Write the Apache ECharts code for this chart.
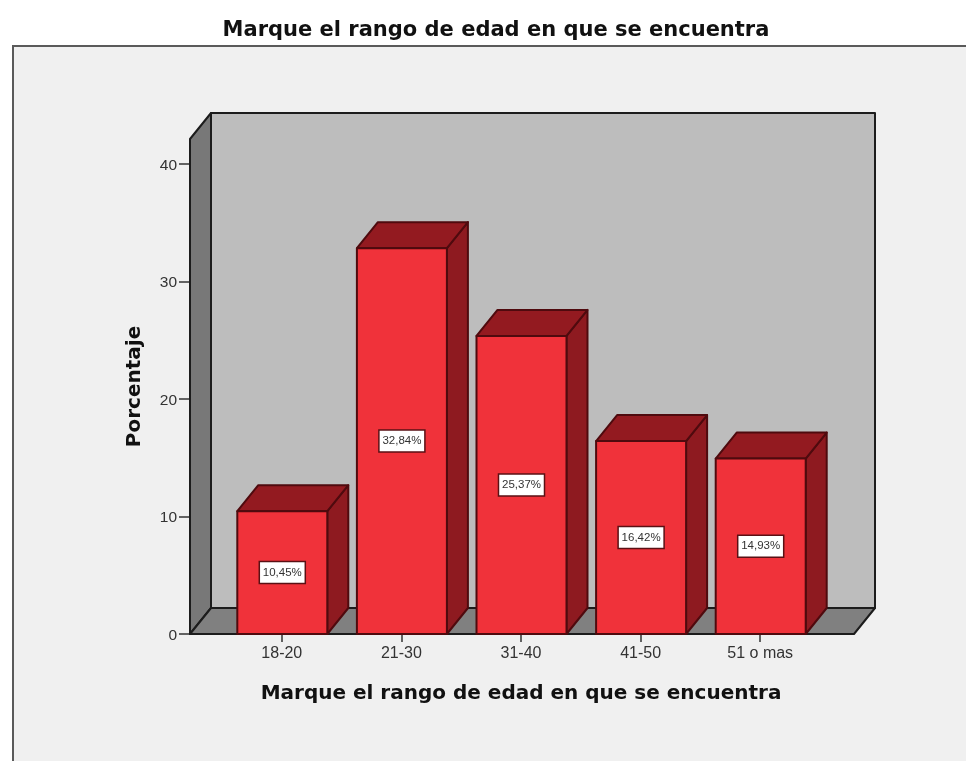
<!DOCTYPE html>
<html>
<head>
<meta charset="utf-8">
<style>html,body{margin:0;padding:0;background:#fff}#c{width:966px;height:761px}</style>
<script src="https://cdn.jsdelivr.net/npm/echarts@6/dist/echarts.min.js"></script>
</head>
<body>
<div id="c"></div>
<script>
const categories = ['18-20', '21-30', '31-40', '41-50', '51 o mas'];
const percentages = [10.45, 32.84, 25.37, 16.42, 14.93];
const yTicks = [0, 10, 20, 30, 40];
const chartTitle = 'Marque el rango de edad en que se encuentra';
const xName = 'Marque el rango de edad en que se encuentra';
const yName = 'Porcentaje';

const depthX = 21, depthY = 26, wallLeftPad = 32, wallRightPad = 34;
const edge = '#1c1c1c', barEdge = '#4f0a0e';
const poly = (points, fill, stroke, lw) => ({
  type: 'polygon', shape: { points },
  style: { fill, stroke, lineWidth: lw, lineJoin: 'round' }
});

function renderWalls(params) {
  const g = params.coordSys;
  const L = g.x - wallLeftPad, R = g.x + g.width + wallRightPad, T = g.y, B = g.y + g.height;
  return {
    type: 'group',
    children: [
      poly([[L + depthX, T - depthY], [R + depthX, T - depthY], [R + depthX, B - depthY], [L + depthX, B - depthY]], '#bdbdbd', edge, 2),
      poly([[L, T], [L + depthX, T - depthY], [L + depthX, B - depthY], [L, B]], '#787878', edge, 2),
      poly([[L, B], [L + depthX, B - depthY], [R + depthX, B - depthY], [R, B]], '#808080', edge, 2)
    ]
  };
}

function renderBar(params, api) {
  const top = api.coord([api.value(0), api.value(1)]);
  const base = api.coord([api.value(0), 0]);
  const w = api.size([1, 0])[0] * 0.7525;
  const x0 = top[0] - w / 2 + 0.5, x1 = top[0] + w / 2 + 0.5, y0 = top[1], y1 = base[1];
  const cx = top[0] + 0.5, midY = (y0 + y1) / 2;
  const label = api.value(1).toFixed(2).replace('.', ',') + '%';
  return {
    type: 'group',
    children: [
      poly([[x1, y0], [x1 + depthX, y0 - depthY], [x1 + depthX, y1 - depthY], [x1, y1]], '#8e1a20', barEdge, 2),
      poly([[x0, y0], [x0 + depthX, y0 - depthY], [x1 + depthX, y0 - depthY], [x1, y0]], '#931a20', barEdge, 2),
      poly([[x0, y0], [x1, y0], [x1, y1], [x0, y1]], '#f0323a', barEdge, 2),
      { type: 'rect', shape: { x: cx - 23, y: midY - 11, width: 46, height: 22 },
        style: { fill: '#ffffff', stroke: '#5a1014', lineWidth: 1.5 } },
      { type: 'text', x: cx, y: midY,
        style: { text: label, fill: '#333333', font: '11.5px "Liberation Sans"', align: 'center', verticalAlign: 'middle' } }
    ]
  };
}

const chart = echarts.init(document.getElementById('c'), null, { renderer: 'canvas' });
chart.setOption({
  animation: false,
  backgroundColor: '#ffffff',
  graphic: [{
    type: 'rect', left: 12, top: 45, z: -1,
    shape: { width: 960, height: 720 },
    style: { fill: '#f0f0f0', stroke: '#5a5a5a', lineWidth: 2 }
  }],
  title: {
    text: chartTitle, left: 491, top: 15, textAlign: 'center',
    textStyle: { fontFamily: 'DejaVu Sans', fontSize: 21, fontWeight: 'bold', color: '#111' }
  },
  grid: { left: 222, width: 598, top: 139, height: 495, containLabel: false },
  xAxis: {
    type: 'category', data: categories,
    name: xName, nameLocation: 'middle', nameGap: 50,
    nameTextStyle: { fontFamily: 'DejaVu Sans', fontSize: 20, fontWeight: 'bold', color: '#111' },
    axisLine: { show: false },
    axisTick: { show: true, alignWithLabel: true, length: 8, lineStyle: { color: '#333', width: 1.5 } },
    axisLabel: { interval: 0, margin: 12, fontFamily: 'Liberation Sans', fontSize: 16, color: '#333' },
    splitLine: { show: false }
  },
  yAxis: {
    type: 'value', min: 0, max: 42.13, offset: wallLeftPad,
    name: yName, nameLocation: 'middle', nameGap: 45,
    nameTextStyle: { fontFamily: 'DejaVu Sans', fontSize: 20, fontWeight: 'bold', color: '#111' },
    axisLine: { show: false },
    axisTick: { show: true, length: 11, customValues: yTicks, lineStyle: { color: '#333', width: 1.5 } },
    axisLabel: {
      margin: 13, customValues: yTicks, formatter: '{n|{value}}',
      rich: { n: { padding: [3, 0, 0, 0], fontFamily: 'Liberation Sans', fontSize: 15.5, color: '#333' } }
    },
    splitLine: { show: false }
  },
  series: [
    { type: 'custom', name: 'walls', z: 1, clip: false, silent: true, renderItem: renderWalls, data: [[0, 0]] },
    { type: 'custom', name: 'Porcentaje', z: 3, clip: false, renderItem: renderBar,
      encode: { x: 0, y: 1 },
      data: percentages.map((v, i) => [i, v]) }
  ]
});
</script>
</body>
</html>
